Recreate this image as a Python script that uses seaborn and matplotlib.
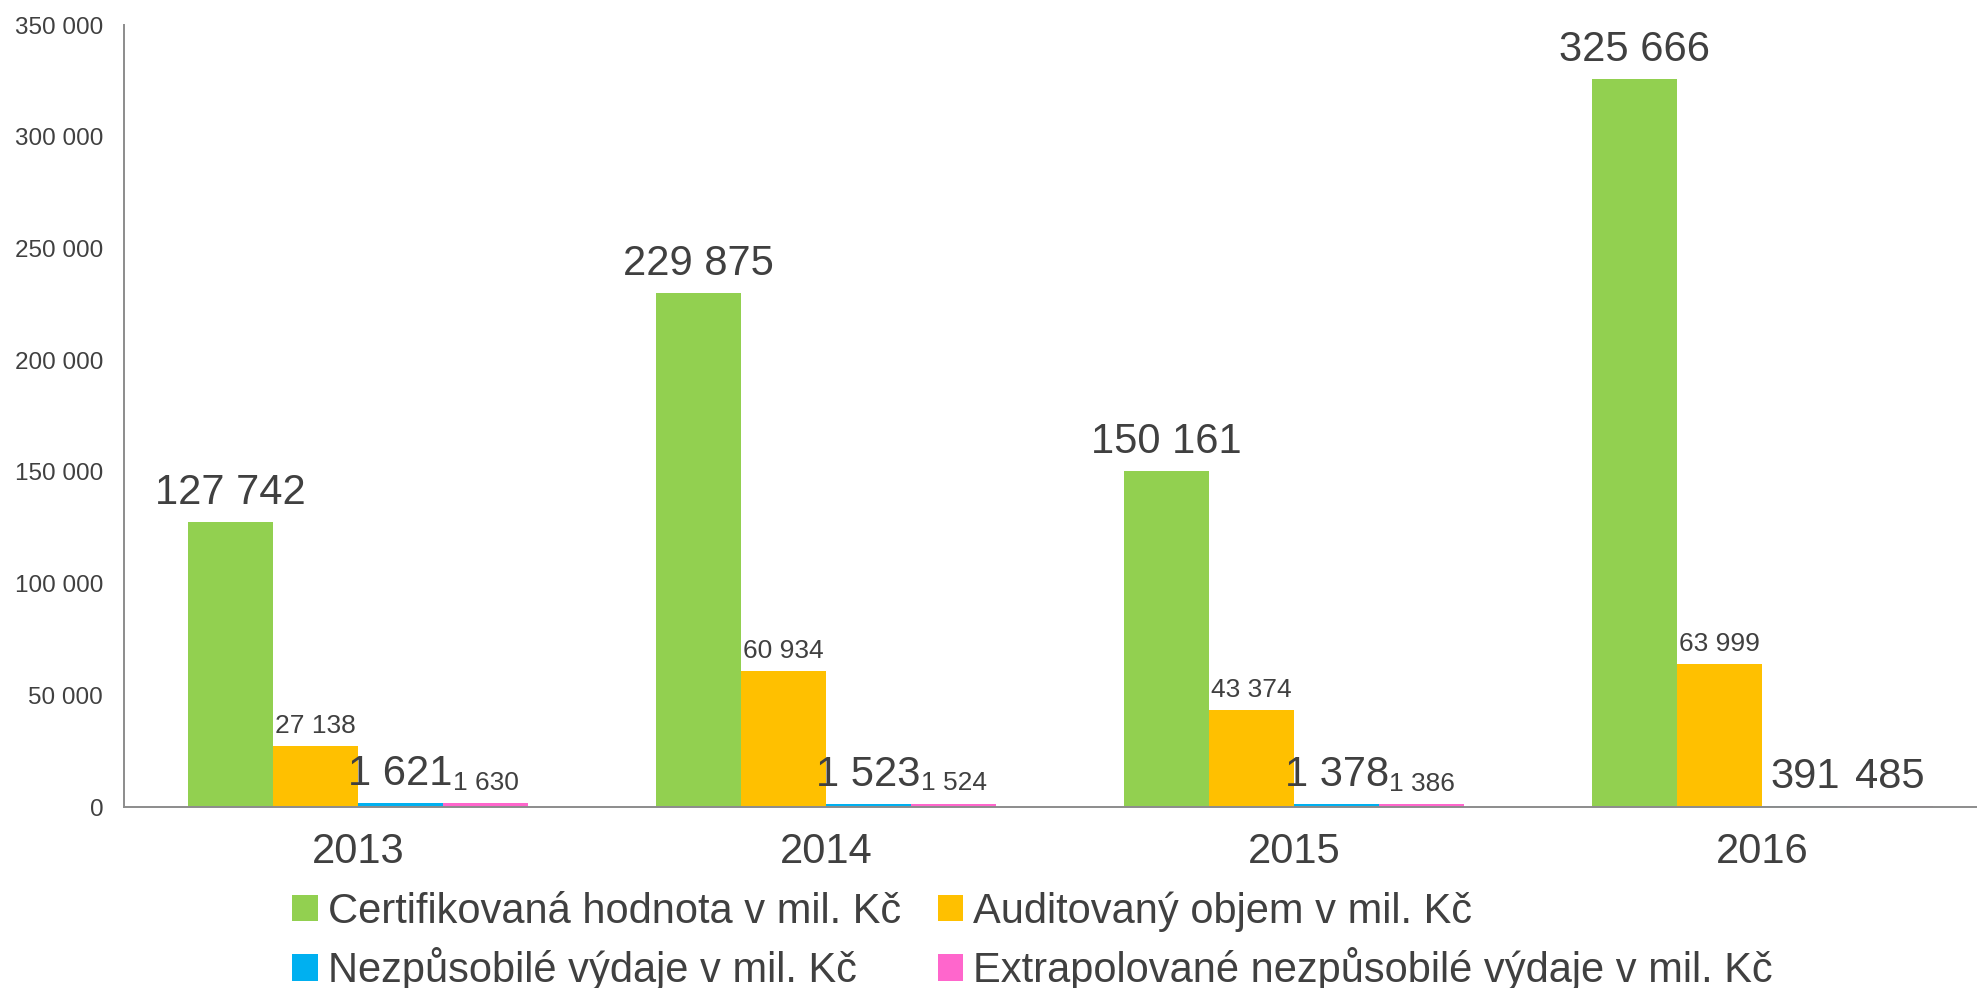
import numpy as np
import pandas as pd
import seaborn as sns
import matplotlib.pyplot as plt
from matplotlib.patches import Patch

# data
years = ["2013", "2014", "2015", "2016"]
certifikovana = [127742, 229875, 150161, 325666]
auditovany = [27138, 60934, 43374, 63999]
nezpusobile = [1621, 1523, 1378, 391]
extrapolovane = [1630, 1524, 1386, 485]

series_names = [
    "Certifikovaná hodnota v mil. Kč",
    "Auditovaný objem v mil. Kč",
    "Nezpůsobilé výdaje v mil. Kč",
    "Extrapolované nezpůsobilé výdaje v mil. Kč",
]
series_values = [certifikovana, auditovany, nezpusobile, extrapolovane]
colors = ["#92D050", "#FFC000", "#00B0F0", "#FF66CC"]
# which value labels are drawn large in the original
big_label = [
    [True, True, True, True],
    [False, False, False, False],
    [True, True, True, True],
    [False, False, False, True],
]

rows = []
for name, vals in zip(series_names, series_values):
    for y, v in zip(years, vals):
        rows.append({"rok": y, "serie": name, "hodnota": v})
df = pd.DataFrame(rows)

sns.set_style("white")
plt.rcParams["font.family"] = ["Liberation Sans", "DejaVu Sans"]
text_col = "#404040"
axis_col = "#8C8C8C"

def fmt(v):
    return f"{v:,.0f}".replace(",", " ")

fig = plt.figure(figsize=(19.77, 9.88), dpi=100)
ax = fig.add_axes([124 / 1977, 1 - 807 / 988, 1 - 124 / 1977, (807 - 25) / 988])

sns.barplot(data=df, x="rok", y="hodnota", hue="serie", hue_order=series_names,
            palette=colors, width=0.728, gap=0, saturation=1, linewidth=0,
            ax=ax, legend=True)

ax.get_legend().remove()

for i, cont in enumerate(ax.containers):
    for j, bar in enumerate(cont):
        big = big_label[i][j]
        ax.annotate(fmt(series_values[i][j]),
                    (bar.get_x() + bar.get_width() / 2, bar.get_height()),
                    xytext=(0, 13 if big else 9.5), textcoords="offset points",
                    ha="center", va="baseline", color=text_col,
                    fontsize=30 if big else 19)

ax.set_yticks(np.arange(0, 350001, 50000))
ax.set_yticklabels([fmt(v) for v in np.arange(0, 350001, 50000)])
ax.set_xticks([-0.5, 0.5, 1.5, 2.5, 3.5])
ax.set_xticklabels([])
ax.set_xticks(range(len(years)), minor=True)
ax.set_xticklabels(years, minor=True)
ax.set_ylim(0, 350000)
ax.set_xlim(-0.5, 3.459)
ax.tick_params(axis="x", which="major", length=8, width=1.4, color=axis_col, direction="out")
ax.tick_params(axis="x", which="minor", length=0, pad=18, labelsize=30, labelcolor=text_col)
ax.tick_params(axis="y", length=8, width=1.4, color=axis_col, direction="out",
               labelsize=17.5, labelcolor=text_col, pad=7)
ax.set_xlabel("")
ax.set_ylabel("")
sns.despine(ax=ax)
for s in ["left", "bottom"]:
    ax.spines[s].set_color(axis_col)
    ax.spines[s].set_linewidth(1.4)

# legend: rows Cert/Audit, Nezp/Extra
order = [0, 2, 1, 3]
leg_handles = [Patch(facecolor=colors[k], edgecolor="none") for k in order]
leg_labels = [series_names[k] for k in order]
fig.legend(leg_handles, leg_labels, ncol=2, loc="upper left",
           bbox_to_anchor=(292 / 1977, 1 - 891 / 988), frameon=False,
           fontsize=30, labelcolor=text_col, handlelength=0.62, handleheight=0.6,
           handletextpad=0.24, columnspacing=0.88, labelspacing=0.38,
           borderpad=0, borderaxespad=0)

fig.savefig("out.png", dpi=100)
